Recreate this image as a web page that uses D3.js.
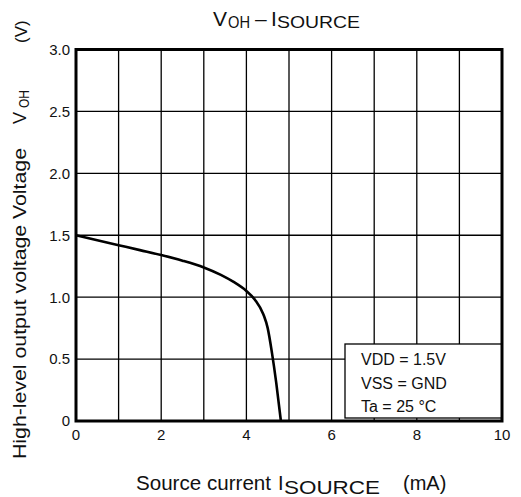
<!DOCTYPE html>
<html>
<head>
<meta charset="utf-8">
<script src="https://cdn.jsdelivr.net/npm/d3@7"></script>
<style>
  html, body { margin: 0; padding: 0; background: #fff; }
  svg text { font-family: "Liberation Sans", Arial, sans-serif; fill: #111; }
</style>
</head>
<body>
<svg id="chart" width="521" height="497"></svg>
<script>
// ---- data ----
const currentMA = [0, 0.5, 1.0, 1.5, 2.0, 2.5, 3.0, 3.4, 3.7, 4.0, 4.2, 4.4, 4.5, 4.6, 4.7, 4.81];
const voltageV  = [1.50, 1.46, 1.42, 1.38, 1.34, 1.295, 1.24, 1.18, 1.123, 1.05, 0.98, 0.86, 0.75, 0.55, 0.31, 0];
const xTicks = [0, 2, 4, 6, 8, 10];
const xGrid = [1, 2, 3, 4, 5, 6, 7, 8, 9];
const yTicks = [0, 0.5, 1.0, 1.5, 2.0, 2.5, 3.0];
const yTickLabels = ["0", "0.5", "1.0", "1.5", "2.0", "2.5", "3.0"];
const legendLines = ["VDD = 1.5V", "VSS = GND", "Ta = 25 °C"];

const svg = d3.select("#chart");
const L = 76, R = 502, T = 49.5, B = 421;
const x = d3.scaleLinear().domain([0, 10]).range([L, R]);
const y = d3.scaleLinear().domain([0, 3]).range([B, T]);

// grid
svg.append("g").selectAll("line").data(xGrid).join("line")
  .attr("x1", d => x(d)).attr("x2", d => x(d)).attr("y1", T).attr("y2", B)
  .attr("stroke", "#000").attr("stroke-width", 1.3);
svg.append("g").selectAll("line").data(yTicks.filter(d => d > 0 && d < 3)).join("line")
  .attr("x1", L).attr("x2", R).attr("y1", d => y(d)).attr("y2", d => y(d))
  .attr("stroke", "#000").attr("stroke-width", 1.3);

// y tick labels
svg.append("g").selectAll("text").data(yTicks).join("text")
  .attr("x", 70).attr("y", d => y(d)).attr("dy", "0.36em")
  .attr("text-anchor", "end").attr("font-size", 15)
  .text((d, i) => yTickLabels[i]);

// x tick labels
svg.append("g").selectAll("text").data(xTicks).join("text")
  .attr("x", d => x(d)).attr("y", 440)
  .attr("text-anchor", "middle").attr("font-size", 15)
  .text(d => d);

// curve
const pts = currentMA.map((c, i) => [c, voltageV[i]]);
svg.append("path").datum(pts)
  .attr("fill", "none").attr("stroke", "#000").attr("stroke-width", 2.6)
  .attr("d", d3.line().x(d => x(d[0])).y(d => y(d[1])).curve(d3.curveMonotoneX));

// legend box
const lg = svg.append("g");
lg.append("rect").attr("x", 345).attr("y", 344).attr("width", R - 345).attr("height", 74)
  .attr("fill", "#fff").attr("stroke", "#000").attr("stroke-width", 1.3);
lg.selectAll("text").data(legendLines).join("text")
  .attr("x", 361).attr("y", (d, i) => 365 + i * 23.5)
  .attr("font-size", 16).text(d => d);

// frame
svg.append("rect").attr("x", L).attr("y", T).attr("width", R - L).attr("height", B - T)
  .attr("fill", "none").attr("stroke", "#000").attr("stroke-width", 3);

// title
const tt = svg.append("g");
tt.append("text").attr("x", 213).attr("y", 26).attr("font-size", 21)
  .attr("textLength", 14).attr("lengthAdjust", "spacingAndGlyphs").text("V");
tt.append("text").attr("x", 228).attr("y", 28).attr("font-size", 16.5)
  .attr("textLength", 22).attr("lengthAdjust", "spacingAndGlyphs").text("OH");
tt.append("text").attr("x", 255).attr("y", 26).attr("font-size", 21).text("–");
tt.append("text").attr("x", 271).attr("y", 26).attr("font-size", 21).text("I");
tt.append("text").attr("x", 277).attr("y", 28).attr("font-size", 16.5)
  .attr("textLength", 83).attr("lengthAdjust", "spacingAndGlyphs").text("SOURCE");

// x-axis title
const xt = svg.append("g");
xt.append("text").attr("x", 136).attr("y", 490).attr("font-size", 20)
  .attr("textLength", 135).attr("lengthAdjust", "spacingAndGlyphs").text("Source current");
xt.append("text").attr("x", 278).attr("y", 490).attr("font-size", 20).text("I");
xt.append("text").attr("x", 284).attr("y", 494).attr("font-size", 17.5)
  .attr("textLength", 96).attr("lengthAdjust", "spacingAndGlyphs").text("SOURCE");
xt.append("text").attr("x", 403).attr("y", 490).attr("font-size", 20).text("(mA)");

// y-axis title
const yt = svg.append("g");
yt.append("text").attr("transform", "translate(26,459) rotate(-90)").attr("font-size", 18)
  .attr("textLength", 311).attr("lengthAdjust", "spacingAndGlyphs")
  .text("High-level output voltage Voltage");
yt.append("text").attr("transform", "translate(26,124) rotate(-90)").attr("font-size", 18).text("V");
yt.append("text").attr("transform", "translate(29,108) rotate(-90)").attr("font-size", 14.5)
  .attr("textLength", 18).attr("lengthAdjust", "spacingAndGlyphs").text("OH");
yt.append("text").attr("transform", "translate(27,43) rotate(-90)").attr("font-size", 17).text("(V)");
</script>
</body>
</html>
